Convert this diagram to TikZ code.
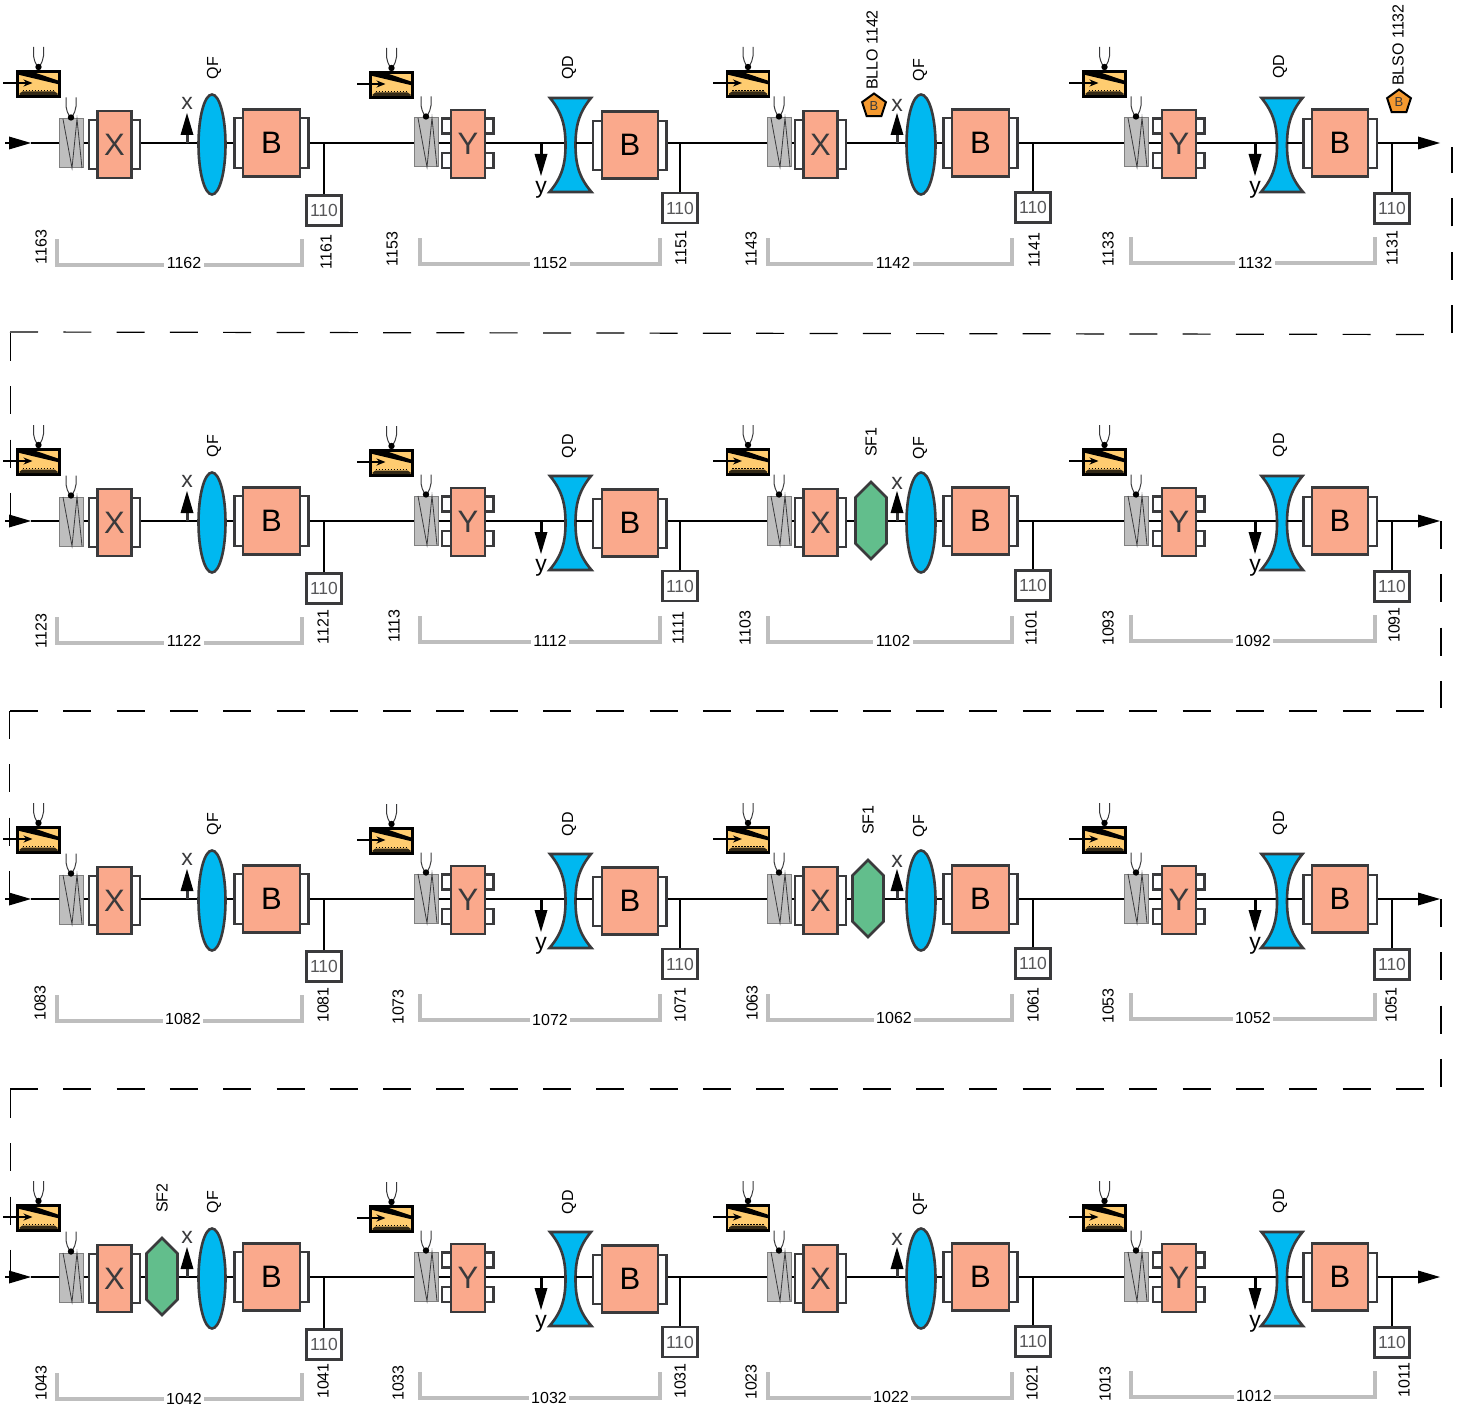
\documentclass[tikz,border=0pt]{standalone}
\usepackage{fontspec}
\setmainfont{Liberation Sans}
\usetikzlibrary{shapes.geometric,arrows.meta}
\definecolor{edgec}{HTML}{3A3A3C}
\definecolor{salm}{HTML}{FAA98C}
\definecolor{lensb}{HTML}{00B8F0}
\definecolor{hexg}{HTML}{62BE8C}
\definecolor{coilo}{HTML}{FFCC70}
\definecolor{greyf}{HTML}{BEBEBE}
\definecolor{bpent}{HTML}{F59A30}
\newcommand\fs[1]{\fontsize{#1}{#1}\selectfont}
\tikzset{
 mag/.style={draw=edgec,fill=salm,line width=2.7pt,inner sep=0pt,text=edgec,font=\fs{31}},
 bmag/.style={mag,text=black},
 brk/.style={draw=edgec,fill=white,line width=2.6pt,inner sep=0pt},
 lens/.style={ellipse,draw=edgec,fill=lensb,line width=2.6pt,inner sep=0pt},
 bpm/.style={draw=edgec,fill=white,line width=2.2pt,inner sep=0pt,text=edgec!85,font=\fs{17.5},minimum width=35pt,minimum height=30pt},
 greybox/.style={draw=gray,fill=greyf,line width=1pt,inner sep=0pt,minimum width=24pt,minimum height=49pt},
 coilbox/.style={draw=black,fill=coilo,line width=2.2pt,inner sep=0pt,minimum width=42pt,minimum height=25pt},
 beam/.style={draw=black,line width=2.8pt},
 grbr/.style={draw=greyf,line width=3.6pt},
 dashln/.style={draw=black,line width=1.2pt,dash pattern=on 28pt off 25.3pt},
 numl/.style={font=\fs{16},inner sep=0pt,rotate=90},
 secl/.style={font=\fs{16},fill=white,inner xsep=2.5pt,inner ysep=0pt},
 magl/.style={font=\fs{16},inner sep=0pt,rotate=90},
 axl/.style={font=\fs{23},inner sep=0pt,text=edgec},
 ghost/.style={inner sep=0pt,minimum height=10pt},
 pent/.style={regular polygon,regular polygon sides=5,draw=black,fill=bpent,line width=2pt,inner sep=0pt,minimum size=25pt,font=\fs{13},text=edgec},
 headarrow/.style={-{Triangle[length=22pt,width=13pt,fill=black,line width=0pt]}},
}
% tulip: dot with two wires
\newcommand\tulip[2]{%
 \draw[edgec,line width=1pt] ({#1-1},#2) .. controls ({#1-3},{#2-5}) and ({#1-5},{#2-7}) .. ({#1-5},{#2-11}) -- ({#1-5},{#2-20});
 \draw[edgec,line width=1pt] ({#1+1},#2) .. controls ({#1+3},{#2-5}) and ({#1+5},{#2-7}) .. ({#1+5},{#2-11}) -- ({#1+5},{#2-20});
 \fill[black] (#1,#2) circle (3.2pt);}
% corrector coil: #1 name, uses \cCx \cCy \cIn
\newcommand\coil[1]{%
 \coordinate (#1-in) at (\cIn,{\cCy-1});
 \coordinate (#1-tip) at ({\cCx-6},{\cCy-1});
 \node[coilbox] (#1-c) at (\cCx,\cCy) {};
 \begin{scope}[shift={(\cCx,\cCy)}]
  \fill[black] (-21,-12.5) -- (-7,-12.5) -- (21,-3) -- (21,0.5) -- (-21,-9.5) -- cycle;
  \fill[black!80!coilo] (-19,9.5) -- (-16,7.5) -- (16,7.5) -- (19,9.5) -- (19,11) -- (-19,11) -- cycle;
  \draw[black,line width=1.2pt,dash pattern=on 1.5pt off 1.5pt] (-16,6.5) -- (16,6.5);
 \end{scope}
 \draw[black,line width=1.8pt,-{Stealth[length=9pt,width=7pt]}] (#1-in) -- (#1-tip);
 \tulip{\cCx}{\cCy-17}}
% grey dipole corrector
\newcommand\gbox[1]{%
 \node[greybox] (#1-g) at (\cGx,\cGy) {};
 \draw[edgec,line width=.8pt] ({\cGx-8},{\cGy-24.5}) -- ({\cGx+1},{\cGy+24.5}) -- ({\cGx+6},{\cGy-24.5}) -- ({\cGx+11},{\cGy+24.5});
 \tulip{\cGx}{\cGy-26}}
% bending dipole + B-side brackets + BPM
\newcommand\bend[1]{%
 \node[brk,minimum width=9pt,minimum height=\bBh pt] (#1-bbL) at ({\bLx},\bBy) {};
 \node[brk,minimum width=9pt,minimum height=\bBh pt] (#1-bbR) at ({\bRx},\bBy) {};
 \node[bmag,minimum width=\bW pt,minimum height=67pt] (#1-B) at (\bCx,\bCy) {B};
 \coordinate (#1-st) at (\sX,143);
 \node[bpm] (#1-bpm) at (\sX,\sY) {110};
 \draw[beam] (#1-st) -- (#1-bpm.north);
 \draw[grbr] (\grL,\grT) -- (\grL,{\grT+26}) -- (\grR,{\grT+26}) -- (\grR,\grT);}
% X-type module: #1 name, #2 hex x (or 0), #3 hex label
\newcommand\ModX[3]{%
 \coordinate (#1-base) at (0,143);
 \coil{#1}\gbox{#1}
 \node[brk,minimum width=9pt,minimum height=49pt] (#1-bL) at ({\mX-21},144.5) {};
 \node[brk,minimum width=9pt,minimum height=49pt] (#1-bR) at ({\mX+21},144.5) {};
 \node[mag,minimum width=34pt,minimum height=67pt] (#1-M) at (\mX,144.5) {X};
 \draw[beam] (#1-g.east |- #1-base) -- (#1-bL.west |- #1-base);
 \node[lens,minimum width=\lW pt,minimum height=100pt] (#1-L) at (\lX,144.5) {};
 \node[magl] (#1-ql) at (\qlX,\qlY) {QF};
 \ifdim #2pt>0pt
  \node[ghost,minimum width=31pt] (#1-H) at (#2,143) {};
  \draw[beam] (#1-bR.east |- #1-base) -- (#1-H.west |- #1-base);
  \draw[beam] (#1-H.east |- #1-base) -- (#1-L.west |- #1-base);
  \filldraw[draw=edgec,fill=hexg,line width=2.6pt] ({#2-15.5},{142.5-23}) -- (#2,{142.5-38.5}) -- ({#2+15.5},{142.5-23}) -- ({#2+15.5},{142.5+23}) -- (#2,{142.5+38.5}) -- ({#2-15.5},{142.5+23}) -- cycle;
  \node[magl] (#1-hl) at (#2,64) {#3};
 \else
  \draw[beam] (#1-bR.east |- #1-base) -- (#1-L.west |- #1-base);
 \fi
 \coordinate (#1-ab) at (\aX,143);
 \coordinate (#1-at) at (\aX,113);
 \draw[edgec,line width=3pt,headarrow] (#1-ab) -- (#1-at);
 \node[axl] (#1-al) at (\aX,{\aLy}) {x};
 \bend{#1}
 \draw[beam] (#1-L.east |- #1-base) -- (#1-bbL.west |- #1-base);}
% Y-type module
\newcommand\ModY[1]{%
 \coordinate (#1-base) at (0,143);
 \coil{#1}\gbox{#1}
 \node[brk,minimum width=9pt,minimum height=15pt] (#1-b1) at ({\mX-21.5},126) {};
 \node[brk,minimum width=9pt,minimum height=15pt] (#1-b2) at ({\mX-21.5},160.5) {};
 \node[brk,minimum width=9pt,minimum height=15pt] (#1-bR) at ({\mX+21},126) {};
 \node[brk,minimum width=9pt,minimum height=15pt] (#1-b4) at ({\mX+21},160.5) {};
 \node[mag,minimum width=34pt,minimum height=68pt] (#1-M) at (\mX,144) {Y};
 \draw[beam] (#1-g.east |- #1-base) -- (#1-M.west |- #1-base);
 \node[ghost,minimum width=10pt] (#1-Q) at (\lX,143) {};
 \draw[beam] (#1-M.east |- #1-base) -- (#1-Q.west |- #1-base);
 \begin{scope}[shift={(\lX,145)}]
  \filldraw[draw=edgec,fill=lensb,line width=2.6pt] (-20.5,-47) -- (20.5,-47) .. controls (8,-32) and (5,-18) .. (5,0) .. controls (5,18) and (8,32) .. (21,47) -- (-21,47) .. controls (-8,32) and (-5,18) .. (-5,0) .. controls (-5,-18) and (-8,-32) .. (-20.5,-47) -- cycle;
 \end{scope}
 \node[magl] (#1-ql) at (\qlX,\qlY) {QD};
 \coordinate (#1-ab) at (\aX,143);
 \coordinate (#1-at) at (\aX,176);
 \draw[black,line width=3pt,headarrow] (#1-ab) -- (#1-at);
 \node[axl,text=black] (#1-al) at (\aX,189.5) {y};
 \bend{#1}
 \draw[beam] (#1-Q.east |- #1-base) -- (#1-bbL.west |- #1-base);}
% column data
\newcommand\colA{\def\cCx{38.5}\def\cCy{84}\def\cIn{3}\def\cGx{71}\def\cGy{143.5}\def\mX{114.5}\def\lX{212}\def\lW{27}\def\aX{187}\def\aLy{103}\def\qlX{214}\def\qlY{68}%
 \def\bCx{271.5}\def\bCy{143}\def\bW{57}\def\bLx{239}\def\bRx{304}\def\bBy{143}\def\bBh{50}\def\sX{324}\def\sY{210.5}\def\grL{57}\def\grR{302}\def\grT{239}}
\newcommand\colB{\def\cCx{391.5}\def\cCy{85}\def\cIn{357}\def\cGx{426}\def\cGy{142.5}\def\mX{468}\def\lX{570.5}\def\lW{27}\def\aX{541}\def\aLy{0}\def\qlX{569}\def\qlY{68}%
 \def\bCx{630}\def\bCy{145}\def\bW{56}\def\bLx{597.5}\def\bRx{662}\def\bBy{145.5}\def\bBh{49}\def\sX{680}\def\sY{208}\def\grL{420}\def\grR{660}\def\grT{238}}
\newcommand\colC{\def\cCx{748}\def\cCy{84}\def\cIn{713}\def\cGx{779}\def\cGy{142.5}\def\mX{820.5}\def\lX{921}\def\lW{29}\def\aX{897}\def\aLy{105}\def\qlX{920}\def\qlY{70}%
 \def\bCx{980.5}\def\bCy{143}\def\bW{57}\def\bLx{948}\def\bRx{1013}\def\bBy{143}\def\bBh{50}\def\sX{1033}\def\sY{207.5}\def\grL{768}\def\grR{1012}\def\grT{238}}
\newcommand\colD{\def\cCx{1104.5}\def\cCy{84}\def\cIn{1069}\def\cGx{1136}\def\cGy{142.5}\def\mX{1179}\def\lX{1282}\def\lW{27}\def\aX{1255}\def\aLy{0}\def\qlX{1280}\def\qlY{67}%
 \def\bCx{1340}\def\bCy{143}\def\bW{56}\def\bLx{1308}\def\bRx{1372.5}\def\bBy{143.5}\def\bBh{49}\def\sX{1392}\def\sY{208.5}\def\grL{1131}\def\grR{1375}\def\grT{237}}
% one row: #1 id, #2 dy, #3 hexA x, #4 hexA label, #5 hexC x, #6 hexC label
\newcommand\RowM[6]{%
 \begin{scope}[shift={(0,#2)}]
  \colA\ModX{#1a}{#3}{#4}
  \colB\ModY{#1b}
  \colC\ModX{#1c}{#5}{#6}
  \colD\ModY{#1d}
  \coordinate (#1s) at (5,143);
  \coordinate (#1t) at (31,143);
  \coordinate (#1e) at (1440,143);
  \draw[beam,headarrow] (#1s) -- (#1t);
  \draw[beam] (#1t) -- (#1a-g.west |- #1a-base);
  \draw[beam] (#1a-bbR.east |- #1a-base) -- (#1b-g.west |- #1a-base);
  \draw[beam] (#1b-bbR.east |- #1a-base) -- (#1c-g.west |- #1a-base);
  \draw[beam] (#1c-bbR.east |- #1a-base) -- (#1d-g.west |- #1a-base);
  \draw[beam,headarrow] (#1d-bbR.east |- #1a-base) -- (#1e);
 \end{scope}}
\begin{document}
\begin{tikzpicture}[x=1pt,y=-1pt]
\useasboundingbox (0,0) rectangle (1458,1407);
\RowM{1}{0}{0}{}{0}{}
\RowM{2}{378}{0}{}{871}{SF1}
\RowM{3}{756}{0}{}{868}{SF1}
\RowM{4}{1134}{162}{SF2}{0}{}
% rotated numbers
\foreach \n/\px/\py in {1163/41/247,1161/326/252,1153/392/249,1151/681/248,1143/751/249,1141/1034/250,1133/1108/249,1131/1392/248,
 1123/41/631,1121/323/627,1113/394/626,1111/678/628,1103/745/628,1101/1031/628,1093/1108/628,1091/1394/625,
 1083/40/1003,1081/323/1005,1073/398/1007,1071/680/1005,1063/752/1003,1061/1033/1005,1053/1108/1006,1051/1391/1005,
 1043/41/1383,1041/323/1381,1033/398/1383,1031/680/1381,1023/751/1382,1021/1032/1383,1013/1105/1384,1011/1404/1380}
 {\node[numl] (n\n) at (\px,\py) {\n};}
% section numbers
\foreach \n/\px/\py in {1162/184/263,1152/550/263,1142/893/263,1132/1255/263,
 1122/184/641,1112/550/641,1102/893/641,1092/1253/641,
 1082/183/1019,1072/550/1020,1062/894/1018,1052/1253/1018,
 1042/184/1399,1032/549/1398,1022/891/1397,1012/1254/1396}
 {\node[secl] (n\n) at (\px,\py) {\n};}
% beam loss monitors
\node[pent] (pa) at (874,106) {B};
\node[magl] (pal) at (872,50) {BLLO 1142};
\node[pent] (pb) at (1399,102) {B};
\node[magl] (pbl) at (1398,45) {BLSO 1132};
% dashed return lines
\coordinate (d1a) at (1452,333); \coordinate (d1b) at (1452,147);
\coordinate (d1c) at (10,332); \coordinate (d1d) at (1425,334.5);
\coordinate (d1e) at (10.5,333); \coordinate (d1f) at (10.5,522);
\draw[dashln] (d1a) -- (d1b);
\draw[dashln] (d1c) -- (d1d);
\draw[dashln] (d1e) -- (d1f);
\coordinate (d2a) at (1441,521); \coordinate (d2b) at (1441,708);
\coordinate (d2c) at (10,711); \coordinate (d2d) at (1425,711);
\coordinate (d2e) at (9.5,711); \coordinate (d2f) at (9.5,900);
\draw[dashln] (d2a) -- (d2b);
\draw[dashln] (d2c) -- (d2d);
\draw[dashln] (d2e) -- (d2f);
\coordinate (d3a) at (1441,899); \coordinate (d3b) at (1441,1088);
\coordinate (d3c) at (10,1089); \coordinate (d3d) at (1425,1089);
\coordinate (d3e) at (10.5,1090); \coordinate (d3f) at (10.5,1278);
\draw[dashln] (d3a) -- (d3b);
\draw[dashln] (d3c) -- (d3d);
\draw[dashln] (d3e) -- (d3f);
\end{tikzpicture}
\end{document}
